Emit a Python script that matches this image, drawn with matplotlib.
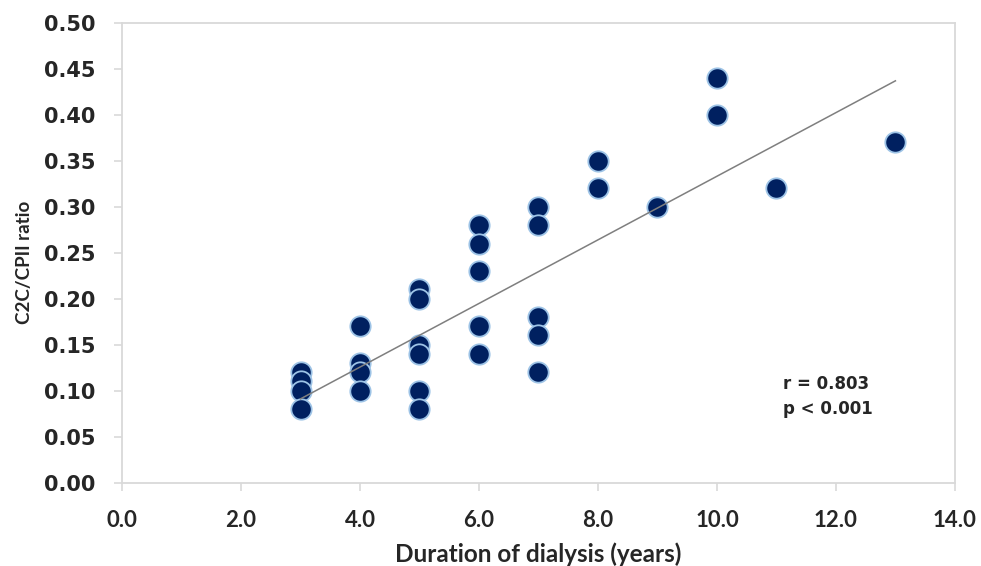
import numpy as np
import matplotlib as mpl

mpl.use("Agg")

import matplotlib.pyplot as plt
import matplotlib.ticker as ticker

# ================================
# data
# ================================
duration_years = [
    3, 3, 3, 3,
    4, 4, 4, 4,
    5, 5, 5, 5, 5, 5,
    6, 6, 6, 6, 6,
    7, 7, 7, 7, 7,
    8, 8,
    9,
    10, 10,
    11,
    13,
]
c2c_cpii_ratio = [
    0.12, 0.11, 0.10, 0.08,
    0.17, 0.13, 0.12, 0.10,
    0.21, 0.20, 0.15, 0.14, 0.10, 0.08,
    0.28, 0.26, 0.23, 0.17, 0.14,
    0.30, 0.28, 0.18, 0.16, 0.12,
    0.35, 0.32,
    0.30,
    0.44, 0.40,
    0.32,
    0.37,
]
# linear trend line as drawn in the reference
trend_slope = 0.0346
trend_intercept = -0.0128
stats_lines = ["r = 0.803", "p < 0.001"]

x = np.asarray(duration_years, dtype=float)
y = np.asarray(c2c_cpii_ratio, dtype=float)

# ================================
# style
# ================================
grid_grey = "#D9D9D9"
text_dark = "#262626"
dot_fill = "#002060"
dot_edge = "#9DC3E6"

fig = plt.figure(figsize=(9.81, 5.66), dpi=100)
ax = fig.add_axes([0.1244, 0.1475, 0.849, 0.812])

ax.scatter(x, y, s=215, c=dot_fill, edgecolors=dot_edge, linewidths=1.3, zorder=3)

# trend line over the data range
xs = np.array([x.min(), x.max()])
ax.plot(xs, trend_slope * xs + trend_intercept, color="#7F7F7F", lw=1.1, zorder=4)

ax.set_xlim(0, 14)
ax.set_ylim(0, 0.5)
ax.xaxis.set_major_locator(ticker.MultipleLocator(2))
ax.yaxis.set_major_locator(ticker.MultipleLocator(0.05))
ax.xaxis.set_major_formatter(ticker.FormatStrFormatter("%.1f"))
ax.yaxis.set_major_formatter(ticker.FormatStrFormatter("%.2f"))

for sp in ax.spines.values():
    sp.set_color(grid_grey)
    sp.set_linewidth(1.3)

ax.tick_params(axis="both", direction="out", color=grid_grey, width=1.2, length=6)
ax.tick_params(axis="y", pad=13)
ax.tick_params(axis="x", pad=14)

for lab in ax.get_yticklabels():
    lab.set_fontfamily("DejaVu Sans")
    lab.set_fontweight("bold")
    lab.set_fontsize(15)
    lab.set_color(text_dark)
for lab in ax.get_xticklabels():
    lab.set_fontfamily("Lato")
    lab.set_fontweight("bold")
    lab.set_fontsize(16)
    lab.set_color(text_dark)

ax.set_xlabel("Duration of dialysis (years)", fontfamily="Lato", fontweight="bold",
              fontsize=17.5, color=text_dark, labelpad=8)
ax.set_ylabel("C2C/CPII ratio", fontfamily="Lato", fontweight="bold",
              fontsize=13.5, color=text_dark)
ax.yaxis.set_label_coords(-0.107, 0.478)

ax.text(0.7935, 0.187, "\n".join(stats_lines), transform=ax.transAxes,
        fontfamily="DejaVu Sans", fontweight="bold", fontsize=12,
        color=text_dark, ha="left", va="center", linespacing=1.55)

fig.savefig("out.png", dpi=100)
plt.close(fig)
